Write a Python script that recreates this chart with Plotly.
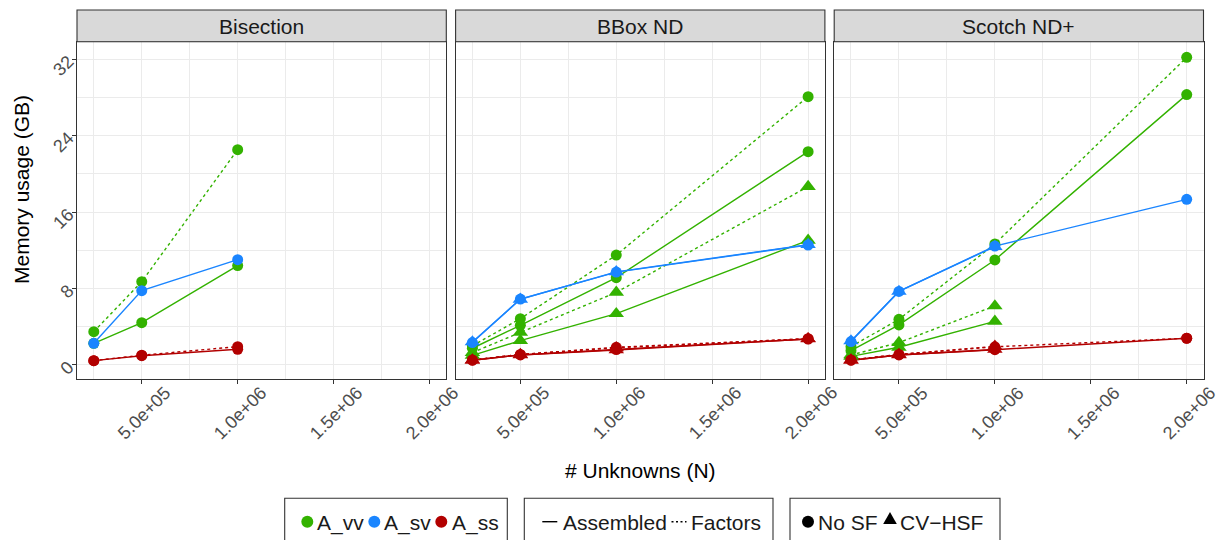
import plotly.graph_objects as go

# values (GB); None = no run at that size
n_unknowns = [250000, 500000, 1000000, 2000000]

bis_vv_asm = [2.27, 4.43, 10.40, None]
bis_vv_fac = [3.49, 8.72, 22.54, None]
bis_sv_asm = [2.27, 7.78, 11.02, None]
bis_ss_asm = [0.45, 0.97, 1.64, None]
bis_ss_fac = [0.45, 1.02, 1.92, None]

bbox_vv_asm_nosf = [1.75, 4.15, 9.14, 22.33]
bbox_vv_fac_nosf = [2.00, 4.85, 11.50, 28.09]
bbox_vv_asm_cv = [1.00, 2.55, 5.37, 13.05]
bbox_vv_fac_cv = [1.30, 3.40, 7.60, 18.67]
bbox_sv_asm_nosf = [2.35, 6.90, 9.72, 12.56]
bbox_sv_asm_cv = [2.41, 6.88, 9.75, 12.60]
bbox_ss_asm_nosf = [0.50, 1.05, 1.62, 2.72]
bbox_ss_fac_nosf = [0.52, 1.10, 1.85, 2.75]
bbox_ss_asm_cv = [0.50, 1.05, 1.57, 2.72]
bbox_ss_fac_cv = [0.52, 1.10, 1.80, 2.75]

sc_vv_asm_nosf = [1.50, 4.19, 10.99, 28.30]
sc_vv_fac_nosf = [1.92, 4.78, 12.67, 32.20]
sc_vv_asm_cv = [0.90, 1.85, 4.57, None]
sc_vv_fac_cv = [1.05, 2.34, 6.18, None]
sc_sv_asm_nosf = [2.45, 7.70, 12.45, 17.34]
sc_sv_asm_cv = [2.51, 7.70, 12.40, None]
sc_ss_asm_nosf = [0.50, 1.05, 1.60, 2.79]
sc_ss_fac_nosf = [0.52, 1.10, 1.90, 2.80]
sc_ss_asm_cv = [0.50, 1.05, 1.62, None]
sc_ss_fac_cv = [0.52, 1.10, 1.95, None]

panels = ["Bisection", "BBox ND", "Scotch ND+"]
x_ticks = [500000, 1000000, 1500000, 2000000]
x_tick_text = ["5.0e+05", "1.0e+06", "1.5e+06", "2.0e+06"]
x_minor = [250000, 750000, 1250000, 1750000]
y_ticks = [0, 8, 16, 24, 32]
y_minor = [4, 12, 20, 28]

# (panel, matrix, storage, sf, values)
series = [
    (0, "A_vv", "Assembled", "No SF", bis_vv_asm),
    (0, "A_vv", "Factors", "No SF", bis_vv_fac),
    (0, "A_sv", "Assembled", "No SF", bis_sv_asm),
    (0, "A_ss", "Assembled", "No SF", bis_ss_asm),
    (0, "A_ss", "Factors", "No SF", bis_ss_fac),
    (1, "A_vv", "Assembled", "No SF", bbox_vv_asm_nosf),
    (1, "A_vv", "Factors", "No SF", bbox_vv_fac_nosf),
    (1, "A_vv", "Assembled", "CV-HSF", bbox_vv_asm_cv),
    (1, "A_vv", "Factors", "CV-HSF", bbox_vv_fac_cv),
    (1, "A_sv", "Assembled", "No SF", bbox_sv_asm_nosf),
    (1, "A_sv", "Assembled", "CV-HSF", bbox_sv_asm_cv),
    (1, "A_ss", "Assembled", "No SF", bbox_ss_asm_nosf),
    (1, "A_ss", "Factors", "No SF", bbox_ss_fac_nosf),
    (1, "A_ss", "Assembled", "CV-HSF", bbox_ss_asm_cv),
    (1, "A_ss", "Factors", "CV-HSF", bbox_ss_fac_cv),
    (2, "A_vv", "Assembled", "No SF", sc_vv_asm_nosf),
    (2, "A_vv", "Factors", "No SF", sc_vv_fac_nosf),
    (2, "A_vv", "Assembled", "CV-HSF", sc_vv_asm_cv),
    (2, "A_vv", "Factors", "CV-HSF", sc_vv_fac_cv),
    (2, "A_sv", "Assembled", "No SF", sc_sv_asm_nosf),
    (2, "A_sv", "Assembled", "CV-HSF", sc_sv_asm_cv),
    (2, "A_ss", "Assembled", "No SF", sc_ss_asm_nosf),
    (2, "A_ss", "Factors", "No SF", sc_ss_fac_nosf),
    (2, "A_ss", "Assembled", "CV-HSF", sc_ss_asm_cv),
    (2, "A_ss", "Factors", "CV-HSF", sc_ss_fac_cv),
]

colors = {"A_vv": "#33b200", "A_sv": "#1a85ff", "A_ss": "#b20000"}
dashes = {"Assembled": "solid", "Factors": "3px,3px"}
symbols = {"No SF": "circle", "CV-HSF": "triangle-up"}
sizes = {"No SF": 11, "CV-HSF": 13.5}

FONT = "Liberation Sans, Arial, Helvetica, sans-serif"
TICK_SIZE = 18
W, H = 1222, 540


def px(x):
    return x / W


def py(y):
    return 1 - y / H


panel_x = [(77.0, 446.3), (455.6, 824.9), (834.2, 1203.5)]
panel_top, panel_bottom, strip_top = 41.7, 379.3, 10.0

fig = go.Figure()

# lines first, then points on top (ggplot order)
for p, mat, store, sf, vals in series:
    ax = "" if p == 0 else str(p + 1)
    fig.add_trace(go.Scatter(
        x=n_unknowns, y=vals, mode="lines", xaxis="x" + ax, yaxis="y" + ax,
        line=dict(color=colors[mat], width=1.4, dash=dashes[store]),
        connectgaps=False, showlegend=False, hoverinfo="skip"))
for p, mat, store, sf, vals in series:
    ax = "" if p == 0 else str(p + 1)
    fig.add_trace(go.Scatter(
        x=n_unknowns, y=vals, mode="markers", xaxis="x" + ax, yaxis="y" + ax,
        marker=dict(color=colors[mat], symbol=symbols[sf], size=sizes[sf], line=dict(width=0)),
        name=f"{mat} {store} {sf}", showlegend=False))

grid = dict(showgrid=True, gridcolor="#ebebeb", gridwidth=1.1, zeroline=False,
            showline=True, mirror=True, linecolor="#333333", linewidth=1.1)
layout = {}
shapes = []
annotations = []
for i, (x0, x1) in enumerate(panel_x):
    ax = "" if i == 0 else str(i + 1)
    layout["xaxis" + ax] = dict(
        domain=[px(x0), px(x1)], range=[162500, 2087500], anchor="y" + ax,
        tickvals=x_ticks, showticklabels=False, ticks="outside", ticklen=4,
        tickcolor="#333333", tickwidth=1.1,
        minor=dict(tickvals=x_minor, showgrid=True, gridcolor="#ebebeb", gridwidth=0.6, ticks=""),
        **grid)
    layout["yaxis" + ax] = dict(
        domain=[py(panel_bottom), py(panel_top)], range=[-1.5, 33.84], anchor="x" + ax,
        tickvals=y_ticks, showticklabels=(i == 0), ticks="outside" if i == 0 else "",
        ticklen=4, tickcolor="#333333", tickwidth=1.1, tickangle=-45,
        tickfont=dict(size=TICK_SIZE, color="#4d4d4d", family=FONT),
        minor=dict(tickvals=y_minor, showgrid=True, gridcolor="#ebebeb", gridwidth=0.6, ticks=""),
        **grid)
    # strip
    shapes.append(dict(type="rect", xref="paper", yref="paper",
                       x0=px(x0), x1=px(x1), y0=py(panel_top), y1=py(strip_top),
                       fillcolor="#d9d9d9", line=dict(color="#333333", width=1.1)))
    annotations.append(dict(text=panels[i], xref="paper", yref="paper",
                            x=px((x0 + x1) / 2), y=py((panel_top + strip_top) / 2 + 0.5),
                            xanchor="center", yanchor="middle", showarrow=False,
                            font=dict(size=21, color="#1a1a1a", family=FONT)))
    # rotated x tick labels, centred under each tick
    for v, t in zip(x_ticks, x_tick_text):
        annotations.append(dict(text=t, xref="x" + ax, yref="paper", x=v, y=py(412.5),
                                xshift=2.5, textangle=-45, xanchor="center", yanchor="middle",
                                showarrow=False, font=dict(size=TICK_SIZE, color="#4d4d4d", family=FONT)))

# axis titles
annotations.append(dict(text="# Unknowns (N)", xref="paper", yref="paper",
                        x=px(640.5), y=py(470), xanchor="center", yanchor="middle",
                        showarrow=False, font=dict(size=21, color="#000000", family=FONT)))
annotations.append(dict(text="Memory usage (GB)", xref="paper", yref="paper",
                        x=px(21), y=py(190), xanchor="center", yanchor="middle", textangle=-90,
                        showarrow=False, font=dict(size=21, color="#000000", family=FONT)))

# legends drawn by hand (three boxes at the bottom)
leg_y = 521.7
for bx0, bx1 in [(284.7, 507.3), (524.3, 773.0), (790.0, 1000.0)]:
    shapes.append(dict(type="rect", xref="paper", yref="paper", x0=px(bx0), x1=px(bx1),
                       y0=py(548), y1=py(498.3), line=dict(color="#333333", width=1.1),
                       fillcolor="rgba(0,0,0,0)"))


def leg_text(t, x):
    annotations.append(dict(text=t, xref="paper", yref="paper", x=px(x - 2), y=py(leg_y + 1),
                            xanchor="left", yanchor="middle", showarrow=False,
                            font=dict(size=21, color="#1a1a1a", family=FONT)))


def leg_dot(cx, color):
    shapes.append(dict(type="circle", xref="paper", yref="paper",
                       x0=px(cx - 6), x1=px(cx + 6), y0=py(leg_y + 6), y1=py(leg_y - 6),
                       fillcolor=color, line=dict(width=0)))


for cx, tx, mat in [(307.3, 317.3, "A_vv"), (374.3, 384.0, "A_sv"), (441.3, 451.7, "A_ss")]:
    leg_dot(cx, colors[mat])
    leg_text(mat, tx)

shapes.append(dict(type="line", xref="paper", yref="paper", x0=px(542.3), x1=px(557.3),
                   y0=py(leg_y), y1=py(leg_y), line=dict(color="#000000", width=1.4)))
leg_text("Assembled", 563.3)
shapes.append(dict(type="line", xref="paper", yref="paper", x0=px(671.5), x1=px(686.5),
                   y0=py(leg_y), y1=py(leg_y), line=dict(color="#000000", width=1.4, dash="2px,2.5px")))
leg_text("Factors", 690.5)

leg_dot(808.0, "#000000")
leg_text("No SF", 818.0)
tcx, tcy = 890.0, 519.5
shapes.append(dict(type="path", xref="paper", yref="paper",
                   path=f"M {px(tcx - 6.8)},{py(tcy + 4.5)} L {px(tcx + 6.8)},{py(tcy + 4.5)} "
                        f"L {px(tcx)},{py(tcy - 7.5)} Z",
                   fillcolor="#000000", line=dict(width=0)))
leg_text("CV\u2212HSF", 900.0)

fig.update_layout(
    width=W, height=H, margin=dict(l=0, r=0, t=0, b=0),
    paper_bgcolor="white", plot_bgcolor="white",
    font=dict(family=FONT), showlegend=False,
    shapes=shapes, annotations=annotations, **layout)

fig.write_html("out.html", config={"displayModeBar": False},
               post_script="document.body.style.margin='0';")
